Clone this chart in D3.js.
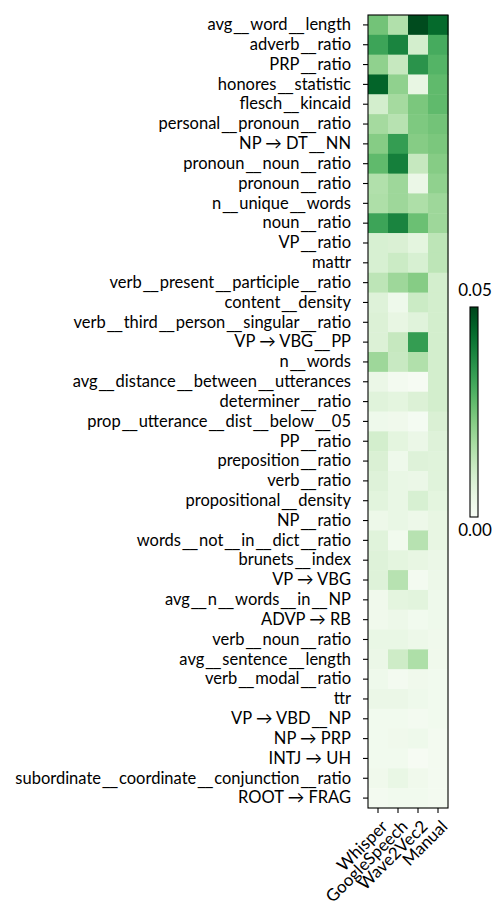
<!DOCTYPE html>
<html>
<head>
<meta charset="utf-8">
<script src="https://cdn.jsdelivr.net/npm/d3@7"></script>
<style>
html,body{margin:0;padding:0;background:#fff;}
svg text{font-family:"Lato","DejaVu Sans",sans-serif;fill:#000;}
</style>
</head>
<body>
<svg id="chart" width="492" height="909"></svg>
<script>
const features = [
"avg_word_length","adverb_ratio","PRP_ratio","honores_statistic","flesch_kincaid",
"personal_pronoun_ratio","NP → DT_NN","pronoun_noun_ratio","pronoun_ratio","n_unique_words",
"noun_ratio","VP_ratio","mattr","verb_present_participle_ratio","content_density",
"verb_third_person_singular_ratio","VP → VBG_PP","n_words","avg_distance_between_utterances","determiner_ratio",
"prop_utterance_dist_below_05","PP_ratio","preposition_ratio","verb_ratio","propositional_density",
"NP_ratio","words_not_in_dict_ratio","brunets_index","VP → VBG","avg_n_words_in_NP",
"ADVP → RB","verb_noun_ratio","avg_sentence_length","verb_modal_ratio","ttr",
"VP → VBD_NP","NP → PRP","INTJ → UH","subordinate_coordinate_conjunction_ratio","ROOT → FRAG"
];
const systems = ["Whisper","GoogleSpeech","Wave2Vec2","Manual"];
const whisper = [0.025,0.0325,0.021,0.045,0.010,0.018,0.0225,0.0275,0.016,0.0165,
0.0325,0.009,0.009,0.014,0.0075,0.008,0.008,0.019,0.004,0.007,
0.003,0.010,0.0085,0.0075,0.0065,0.0035,0.007,0.0075,0.0075,0.0025,
0.0025,0.0045,0.004,0.003,0.004,0.002,0.002,0.002,0.0025,0.0015];
const google = [0.016,0.039,0.0125,0.021,0.018,0.015,0.034,0.040,0.019,0.019,
0.039,0.0085,0.0115,0.019,0.003,0.005,0.0125,0.012,0.0015,0.006,
0.0025,0.006,0.003,0.0045,0.0045,0.0045,0.002,0.006,0.015,0.006,
0.0035,0.0045,0.011,0.0015,0.004,0.002,0.0025,0.002,0.0045,0.002];
const wave2vec2 = [0.049,0.010,0.036,0.005,0.024,0.0235,0.0225,0.0125,0.004,0.0165,
0.026,0.006,0.009,0.0225,0.0115,0.007,0.034,0.016,0.0005,0.008,
0.001,0.004,0.0075,0.004,0.009,0.0035,0.015,0.005,0.0015,0.0065,
0.002,0.0035,0.0165,0.0025,0.003,0.0015,0.003,0.0005,0.0025,0.002];
const manual = [0.044,0.031,0.029,0.0275,0.0275,0.025,0.024,0.0225,0.021,0.019,
0.019,0.014,0.014,0.010,0.010,0.010,0.010,0.010,0.010,0.010,
0.0085,0.0075,0.007,0.007,0.006,0.005,0.005,0.004,0.0035,0.003,
0.003,0.0025,0.0025,0.002,0.002,0.002,0.0015,0.0015,0.0015,0.0015];
const colorTicks = [0.00, 0.05];

const cols = [whisper, google, wave2vec2, manual];
const cells = [];
features.forEach((f,i)=>systems.forEach((s,j)=>cells.push({f,s,v:cols[j][i]})));

const svg = d3.select("#chart");
const mLeft = 368, mTop = 15, pw = 80, ph = 793;
const x = d3.scaleBand().domain(systems).range([mLeft, mLeft+pw]);
const y = d3.scaleBand().domain(features).range([mTop, mTop+ph]);
const color = d3.scaleSequential(d3.interpolateGreens).domain([0,0.05]);

svg.append("g").selectAll("rect").data(cells).join("rect")
  .attr("x", d=>x(d.s)).attr("y", d=>y(d.f))
  .attr("width", x.bandwidth()+0.5).attr("height", y.bandwidth()+0.5)
  .attr("fill", d=>color(d.v));

svg.append("rect").attr("x",mLeft).attr("y",mTop).attr("width",pw).attr("height",ph)
  .attr("fill","none").attr("stroke","#000").attr("stroke-width",1.1);

// y axis
const yAxis = svg.append("g").attr("transform",`translate(${mLeft},0)`)
  .call(d3.axisLeft(y).tickSize(5).tickPadding(12));
yAxis.select(".domain").remove();
yAxis.selectAll(".tick line").attr("stroke","#000").attr("stroke-width",1.1);
yAxis.selectAll(".tick text").attr("font-size","16.5px").attr("font-family",null)
  .text(null)
  .each(function(d){
    const t = d3.select(this);
    const parts = d.split("_");
    parts.forEach((p,k)=>{
      if (k>0) t.append("tspan").attr("dx",1.5)
        .style("font-family","'DejaVu Sans'").attr("font-size","15px").text("__");
      t.append("tspan").attr("dx", k>0 ? 1.5 : 0).text(p);
    });
  });

// x axis
const xAxis = svg.append("g").attr("transform",`translate(0,${mTop+ph})`)
  .call(d3.axisBottom(x).tickSize(5).tickPadding(5));
xAxis.select(".domain").remove();
xAxis.selectAll(".tick line").attr("stroke","#000").attr("stroke-width",1.1);
xAxis.selectAll(".tick text").attr("font-size","17px").attr("font-family",null)
  .attr("text-anchor","end").attr("dy",null).attr("y",null)
  .attr("dominant-baseline","hanging")
  .attr("transform","translate(1,10) rotate(-45)");

// colorbar
const cbX = 470, cbW = 8, cbTop = 307, cbBot = 517;
const defs = svg.append("defs");
const grad = defs.append("linearGradient").attr("id","cbgrad")
  .attr("x1","0").attr("y1","1").attr("x2","0").attr("y2","0");
d3.range(0,1.0001,0.05).forEach(t=>grad.append("stop").attr("offset",t).attr("stop-color",d3.interpolateGreens(t)));
const cy = d3.scaleLinear().domain([0,0.05]).range([cbBot, cbTop]);
svg.append("rect").attr("x",cbX).attr("y",cbTop).attr("width",cbW).attr("height",cbBot-cbTop)
  .attr("fill","url(#cbgrad)").attr("stroke","#000").attr("stroke-width",1.1);
svg.append("g").selectAll("text").data(colorTicks).join("text")
  .attr("x", cbX+cbW/2+1)
  .attr("y", d => d===0 ? cy(d)+19 : cy(d)-11)
  .attr("text-anchor","middle")
  .attr("font-size","17px")
  .text(d=>d3.format(".2f")(d));
</script>
</body>
</html>
